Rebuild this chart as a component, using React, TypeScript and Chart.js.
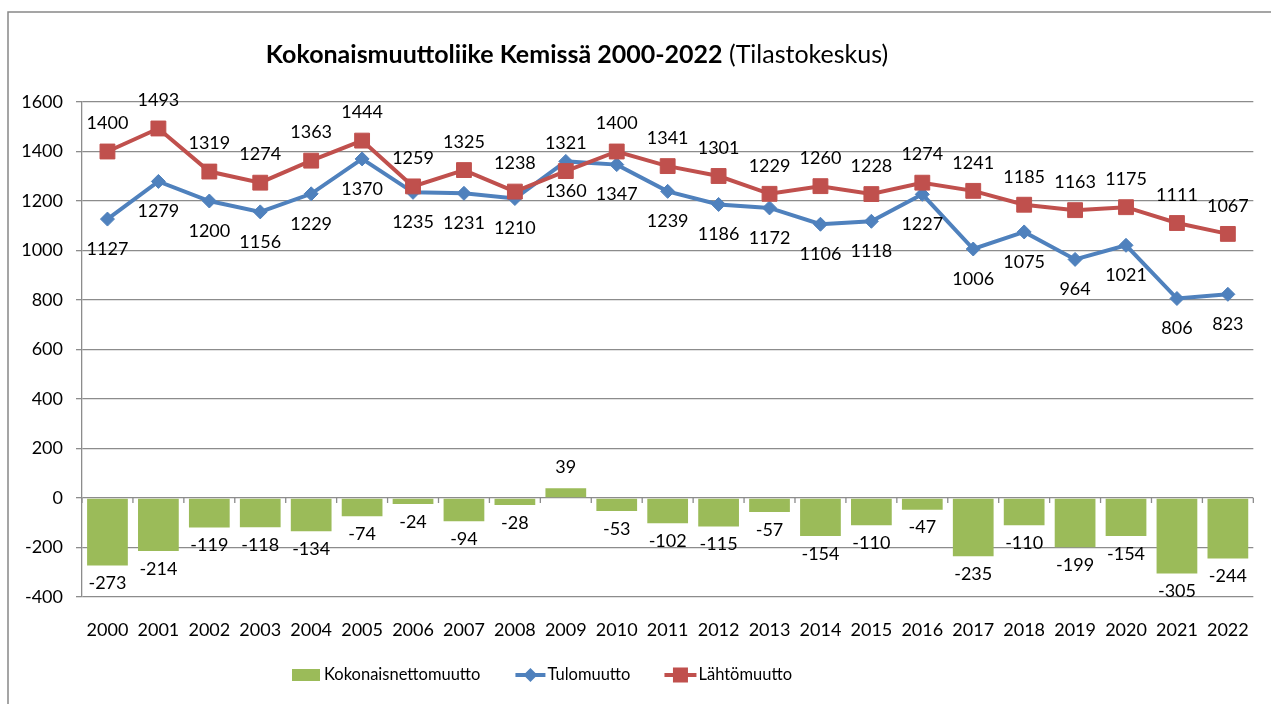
import React, { useEffect, useRef } from "react";
import { Chart, registerables } from "chart.js";

Chart.register(...registerables);

const years = [
  "2000", "2001", "2002", "2003", "2004", "2005", "2006", "2007", "2008", "2009", "2010", "2011",
  "2012", "2013", "2014", "2015", "2016", "2017", "2018", "2019", "2020", "2021", "2022",
];
const netMigration = [
  -273, -214, -119, -118, -134, -74, -24, -94, -28, 39, -53, -102, -115, -57, -154, -110, -47, -235,
  -110, -199, -154, -305, -244,
];
const inMigration = [
  1127, 1279, 1200, 1156, 1229, 1370, 1235, 1231, 1210, 1360, 1347, 1239, 1186, 1172, 1106, 1118,
  1227, 1006, 1075, 964, 1021, 806, 823,
];
const outMigration = [
  1400, 1493, 1319, 1274, 1363, 1444, 1259, 1325, 1238, 1321, 1400, 1341, 1301, 1229, 1260, 1228,
  1274, 1241, 1185, 1163, 1175, 1111, 1067,
];
const seriesNames = ["Kokonaisnettomuutto", "Tulomuutto", "Lähtömuutto"];
const titleBold = "Kokonaismuuttoliike Kemissä 2000-2022";
const titleNormal = " (Tilastokeskus)";
const yMin = -400;
const yMax = 1600;
const yStep = 200;

const FONT = "Lato, 'Open Sans', sans-serif";
const GRID = "#8c8c8c";
const GREEN = "#9BBB59";
const BLUE = "#4F81BD";
const RED = "#C0504D";
const TEXT = "#000000";

const decorPlugin = {
  id: "decor",
  beforeDraw(chart: any) {
    const ctx = chart.ctx;
    ctx.save();
    ctx.fillStyle = "#ffffff";
    ctx.fillRect(0, 0, chart.width, chart.height);
    ctx.strokeStyle = "#888888";
    ctx.lineWidth = 1.5;
    ctx.strokeRect(8, 12, chart.width + 50, chart.height + 50);
    ctx.restore();
  },
  beforeDatasetsDraw(chart: any) {
    const ctx = chart.ctx;
    const xs = chart.scales.x;
    const ys = chart.scales.y;
    const y0 = ys.getPixelForValue(0);
    const step = xs.getPixelForValue(1) - xs.getPixelForValue(0);
    ctx.save();
    ctx.strokeStyle = GRID;
    ctx.lineWidth = 1.3;
    for (let i = 0; i <= years.length; i++) {
      const x = xs.getPixelForValue(0) - step / 2 + i * step;
      ctx.beginPath();
      ctx.moveTo(x, y0);
      ctx.lineTo(x, y0 + 5);
      ctx.stroke();
    }
    ctx.restore();
  },
  afterDatasetsDraw(chart: any) {
    const ctx = chart.ctx;
    const xs = chart.scales.x;
    const ys = chart.scales.y;
    ctx.save();
    ctx.font = `18px ${FONT}`;
    ctx.fillStyle = TEXT;
    ctx.textAlign = "center";
    ctx.textBaseline = "middle";
    years.forEach((_, i) => {
      const x = xs.getPixelForValue(i);
      const v = netMigration[i];
      const yb = ys.getPixelForValue(v);
      ctx.fillText(String(v), x, v < 0 ? yb + 18 : yb - 21);
      ctx.fillText(String(inMigration[i]), x, ys.getPixelForValue(inMigration[i]) + 30);
      ctx.fillText(String(outMigration[i]), x, ys.getPixelForValue(outMigration[i]) - 28);
    });
    ctx.restore();
  },
  afterDraw(chart: any) {
    const ctx = chart.ctx;
    ctx.save();
    // Title
    ctx.textBaseline = "middle";
    ctx.textAlign = "left";
    ctx.fillStyle = TEXT;
    ctx.font = `bold 25px ${FONT}`;
    const wb = ctx.measureText(titleBold).width;
    ctx.font = `25px ${FONT}`;
    const wn = ctx.measureText(titleNormal).width;
    const tx = 577 - (wb + wn) / 2;
    ctx.font = `bold 25px ${FONT}`;
    ctx.fillText(titleBold, tx, 55);
    ctx.font = `25px ${FONT}`;
    ctx.fillText(titleNormal, tx + wb, 55);

    // Legend
    const ly = 675;
    ctx.font = `16.5px ${FONT}`;
    const w0 = ctx.measureText(seriesNames[0]).width;
    const w1 = ctx.measureText(seriesNames[1]).width;
    const w2 = ctx.measureText(seriesNames[2]).width;
    const total = 28 + 4 + w0 + 35 + 30 + 2 + w1 + 34 + 32 + 2 + w2;
    let x = 542 - total / 2;
    ctx.fillStyle = GREEN;
    ctx.fillRect(x, ly - 6, 28, 12);
    x += 32;
    ctx.fillStyle = TEXT;
    ctx.fillText(seriesNames[0], x, ly);
    x += w0 + 35;
    ctx.strokeStyle = BLUE;
    ctx.lineWidth = 4;
    ctx.beginPath();
    ctx.moveTo(x, ly);
    ctx.lineTo(x + 30, ly);
    ctx.stroke();
    ctx.fillStyle = BLUE;
    ctx.beginPath();
    ctx.moveTo(x + 15, ly - 7);
    ctx.lineTo(x + 22, ly);
    ctx.lineTo(x + 15, ly + 7);
    ctx.lineTo(x + 8, ly);
    ctx.closePath();
    ctx.fill();
    x += 32;
    ctx.fillStyle = TEXT;
    ctx.fillText(seriesNames[1], x, ly);
    x += w1 + 34;
    ctx.strokeStyle = RED;
    ctx.beginPath();
    ctx.moveTo(x, ly);
    ctx.lineTo(x + 32, ly);
    ctx.stroke();
    ctx.fillStyle = RED;
    ctx.fillRect(x + 8.5, ly - 7.5, 15, 15);
    x += 34;
    ctx.fillStyle = TEXT;
    ctx.fillText(seriesNames[2], x, ly);
    ctx.restore();
  },
};

export default function App() {
  const canvasRef = useRef<HTMLCanvasElement | null>(null);

  useEffect(() => {
    if (!canvasRef.current) return;
    const chart = new Chart(canvasRef.current, {
      type: "bar",
      data: {
        labels: years,
        datasets: [
          {
            type: "line",
            label: seriesNames[2],
            data: outMigration,
            borderColor: RED,
            backgroundColor: RED,
            borderWidth: 4,
            pointStyle: "rect",
            pointRadius: 10.5,
            pointBorderWidth: 1,
            pointBackgroundColor: RED,
            pointBorderColor: RED,
            tension: 0,
            order: 1,
          },
          {
            type: "line",
            label: seriesNames[1],
            data: inMigration,
            borderColor: BLUE,
            backgroundColor: BLUE,
            borderWidth: 4,
            pointStyle: "rectRot",
            pointRadius: 7,
            pointBorderWidth: 1,
            pointBackgroundColor: BLUE,
            pointBorderColor: BLUE,
            tension: 0,
            order: 2,
          },
          {
            type: "bar",
            label: seriesNames[0],
            data: netMigration,
            backgroundColor: GREEN,
            borderWidth: 0,
            categoryPercentage: 1,
            barPercentage: 0.8,
            order: 3,
          },
        ] as any,
      },
      options: {
        animation: false,
        responsive: false,
        maintainAspectRatio: false,
        devicePixelRatio: 1,
        layout: { padding: { top: 102, right: 5, bottom: 60, left: 0 } },
        plugins: {
          legend: { display: false },
          title: { display: false },
          tooltip: { enabled: false },
        },
        scales: {
          x: {
            type: "category",
            offset: true,
            grid: { display: false, drawTicks: false },
            border: { display: false },
            ticks: {
              color: TEXT,
              font: { family: FONT, size: 18 },
              padding: 22,
              maxRotation: 0,
              autoSkip: false,
            },
            afterFit(s: any) {
              s.height = 47;
            },
          },
          y: {
            min: yMin,
            max: yMax,
            ticks: {
              stepSize: yStep,
              color: TEXT,
              font: { family: FONT, size: 18 },
              padding: 13,
              callback: (v: any) => String(v),
            },
            grid: { color: GRID, lineWidth: 1.3, tickLength: 6 },
            border: { color: GRID, width: 1.3 },
            afterFit(s: any) {
              s.width = 82;
            },
          },
        } as any,
      },
      plugins: [decorPlugin],
    });
    return () => chart.destroy();
  }, []);

  return (
    <div
      style={{
        position: "absolute",
        left: 0,
        top: 0,
        width: 1271,
        height: 704,
        overflow: "hidden",
        background: "#fff",
      }}
    >
      <canvas ref={canvasRef} width={1271} height={704} style={{ display: "block" }} />
    </div>
  );
}
